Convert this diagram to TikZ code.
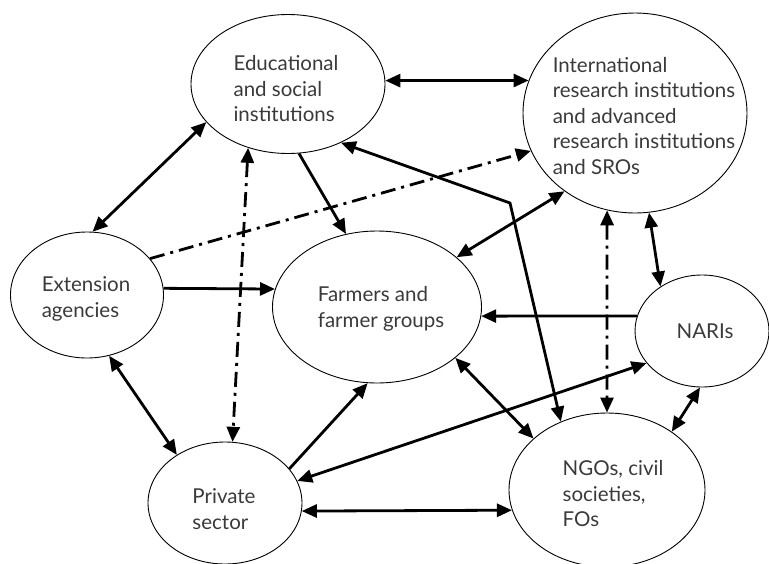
\documentclass[tikz,border=0pt]{standalone}
\usepackage{fontspec}
\setmainfont{Lato}
\usepackage{xcolor}
\usetikzlibrary{arrows.meta,shapes.geometric}
\definecolor{txtgray}{HTML}{3A3A3A}

\begin{document}
\begin{tikzpicture}[x=1pt,y=-1pt,
  actor/.style={ellipse,draw,line width=0.9pt,inner sep=0pt},
  actortext/.style={align=left,inner sep=0pt,text=txtgray,font=\fontsize{20.5}{25.5}\selectfont},
  link/.style={line width=2.8pt,-{Triangle[length=15pt,width=13pt]}},
  both/.style={line width=2.8pt,{Triangle[length=15pt,width=13pt]}-{Triangle[length=15pt,width=13pt]}},
  dashdot/.style={dash pattern=on 15pt off 6pt on 3pt off 6pt}]
\useasboundingbox (0,0) rectangle (769,563);
\node[actor,minimum width=194pt,minimum height=139pt] (edu) at (288,84) {};
\node[actor,minimum width=224pt,minimum height=200pt] (intl) at (635,113) {};
\node[actor,minimum width=153pt,minimum height=126pt] (ext) at (87,295) {};
\node[actor,minimum width=209pt,minimum height=152pt] (farm) at (377,307) {};
\node[actor,minimum width=134pt,minimum height=112pt] (nari) at (702,331) {};
\node[actor,minimum width=154pt,minimum height=122pt] (priv) at (225,503) {};
\node[actor,minimum width=196pt,minimum height=154pt] (ngo) at (607,490) {};
\node[actortext] (edu-t) at (286,89) {Educational\\and social\\institutions};
\node[actortext] (intl-t) at (644,116) {International\\research institutions\\and advanced\\research institutions\\and SROs};
\node[actortext] (ext-t) at (86,299) {Extension\\agencies};
\node[actortext] (farm-t) at (381,309) {Farmers and\\farmer groups};
\node[actortext] (nari-t) at (705,331) {NARIs};
\node[actortext] (priv-t) at (224,509) {Private\\sector};
\node[actortext] (ngo-t) at (613,494) {NGOs, civil\\societies,\\FOs};
\coordinate (bend) at (510,203);
\draw[both] (edu.2) -- (intl.163);
\draw[both] (edu.205) -- (ext.85);
\draw[link] (edu.279) -- (farm.113);
\draw[both,dashdot] (edu.238) -- (priv.83);
\draw[link,dashdot] (ext.30) -- (intl.200);
\draw[link] (ext.5) -- (farm.170);
\draw[both] (ext.290) -- (priv.135);
\draw[link] (priv.28) -- (farm.263);
\draw[both] (priv.17) -- (nari.210);
\draw[both] (priv.354) -- (ngo.192);
\draw[link] (nari.167) -- (farm.355);
\draw[both] (farm.32) -- (intl.228);
\draw[both] (intl.278) -- (nari.133);
\draw[both,dashdot] (intl.254) -- (ngo.90);
\draw[both] (edu.312) -- (bend) -- (ngo.124);
\draw[both] (farm.327) -- (ngo.145);
\draw[both] (nari.268) -- (ngo.42);
\end{tikzpicture}
\end{document}
